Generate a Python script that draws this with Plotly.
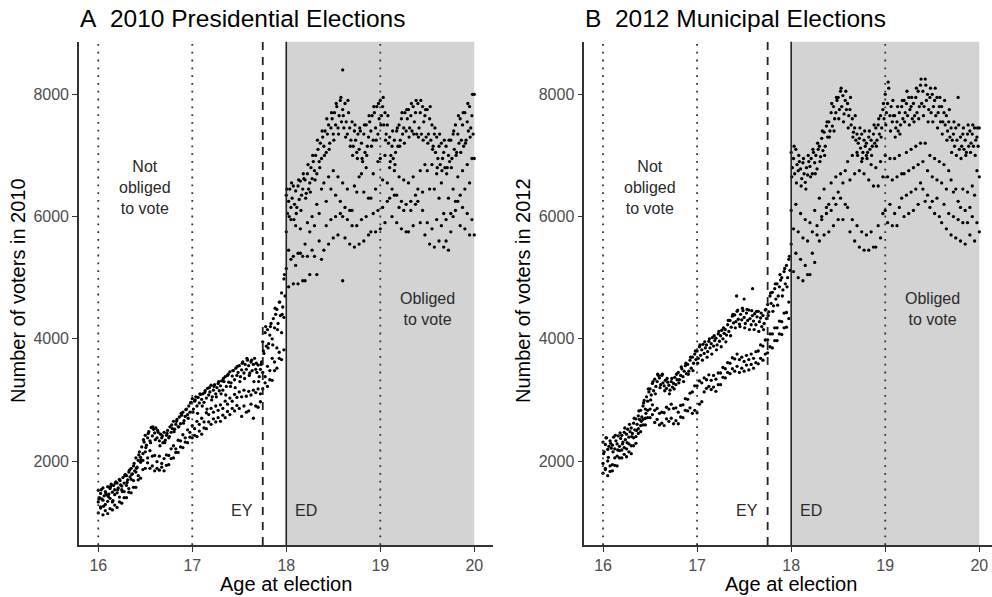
import numpy as np
import plotly.graph_objects as go

# ---------------- Panel A: 2010 Presidential Elections ----------------
# upper (weekday) band, one value every 0.0125 years from age 16.0 to 20.0
a_top = [
    1520, 1400, 1470, 1380, 1560, 1430, 1500, 1450,
    1580, 1460, 1550, 1620, 1490, 1600, 1530, 1660,
    1640, 1560, 1700, 1610, 1590, 1730, 1640, 1780,
    1760, 1690, 1820, 1740, 1880, 1790, 1920, 1840,
    2050, 1900, 2010, 2150, 2060, 2230, 2120, 2310,
    2420, 2260, 2380, 2480, 2330, 2550, 2410, 2520,
    2460, 2540, 2380, 2470, 2330, 2440, 2380, 2300,
    2470, 2340, 2420, 2500, 2380, 2560, 2470, 2530,
    2650, 2520, 2600, 2680, 2560, 2720, 2610, 2750,
    2800, 2660, 2730, 2850, 2760, 2900, 2800, 2960,
    3020, 2850, 2980, 3050, 2900, 3040, 2950, 3090,
    3010, 3100, 2960, 3150, 3030, 3190, 3080, 3130,
    3240, 3050, 3160, 3250, 3100, 3200, 3270, 3150,
    3230, 3310, 3160, 3300, 3380, 3220, 3400, 3290,
    3460, 3280, 3390, 3480, 3330, 3520, 3400, 3450,
    3560, 3380, 3490, 3620, 3440, 3580, 3500, 3650,
    3560, 3440, 3620, 3480, 3580, 3680, 3500, 3450,
    3570, 3380, 3500, 3620, 3950, 3760, 4100, 3880,
    4150, 3920, 4060, 4250, 4000, 4330, 4180, 4400,
    4480, 4250, 4600, 4380, 4750, 4520, 4980, 4700,
    6350, 6050, 6250, 6450, 6150, 6300, 6500, 6200,
    6420, 6150, 6500, 6280, 6580, 6350, 6450, 6620,
    6600, 6380, 6700, 6450, 6550, 6800, 6620, 6900,
    6750, 7000, 6700, 7100, 6900, 7200, 6950, 7300,
    7150, 7400, 7050, 7350, 7500, 7200, 7450, 7600,
    7350, 7700, 7500, 7800, 7450, 7650, 7900, 7550,
    7750, 7450, 7850, 7550, 7350, 7700, 7450, 7250,
    7550, 7150, 7400, 7250, 7050, 7350, 7100, 7400,
    7200, 6900, 7350, 7050, 7500, 7150, 7300, 7550,
    7400, 7650, 7250, 7700, 7450, 7800, 7350, 7600,
    7900, 7650, 7800, 7500, 7700, 7350, 7500, 7200,
    7300, 7000, 7150, 6950, 7250, 7050, 7400, 7150,
    7500, 7250, 7600, 7350, 7450, 7700, 7400, 7600,
    7750, 7450, 7650, 7400, 7800, 7550, 7700, 7350,
    7850, 7450, 7700, 7350, 7800, 7550, 7650, 7300,
    7750, 7350, 7600, 7250, 7500, 7150, 7350, 7050,
    7300, 6950, 7150, 6850, 7200, 6950, 7050, 6800,
    7150, 6800, 7000, 6900, 7250, 6950, 7350, 7100,
    7500, 7050, 7350, 7200, 7600, 7250, 7500, 7150,
    7700, 7250, 7550, 7400, 7800, 7450, 7650, 7350,
    8000,
]
# extra scatter of the upper band, every 0.025 years starting at 16.00625
a_extra = [
    1380, 1530, 1260, 1470, 1420, 1580, 1350, 1640,
    1530, 1680, 1500, 1760, 1650, 1850, 1780, 1960,
    1880, 2100, 2020, 2350, 2220, 2450, 2300, 2560,
    2350, 2500, 2250, 2410, 2300, 2450, 2400, 2590,
    2480, 2650, 2560, 2780, 2620, 2840, 2700, 2950,
    2800, 3000, 2780, 3100, 2900, 3120, 2850, 3200,
    3000, 3220, 3050, 3300, 3100, 3350, 3080, 3420,
    3220, 3480, 3200, 3550, 3300, 3600, 3350, 3680,
    3400, 3650, 3300, 3600, 3300, 3580, 3800, 4200,
    3850, 4200, 3900, 4500, 4150, 4600, 4400, 5050,
    6450, 6000, 6550, 5950, 6050, 6600, 6100, 6700,
    6300, 6850, 6400, 7000, 6600, 7250, 6800, 7400,
    7000, 7600, 7100, 7700, 7250, 7850, 7350, 7950,
    7650, 7300, 7900, 7150, 7000, 7500, 6950, 7450,
    6950, 7500, 7000, 7650, 7150, 7800, 7250, 7850,
    7500, 7950, 7250, 7650, 6900, 7400, 6850, 7450,
    7150, 7700, 7200, 7750, 7300, 7850, 7350, 7900,
    7300, 7900, 7250, 7750, 7200, 7800, 7100, 7450,
    6800, 7350, 6750, 7250, 6700, 7250, 6800, 7400,
    7000, 7650, 7050, 7700, 7200, 7850, 7300, 8000,
]
# middle band, one value every 0.025 years
a_mid = [
    1330, 1250, 1360, 1290, 1340, 1390, 1330, 1450,
    1480, 1410, 1530, 1500, 1600, 1550, 1700, 1680,
    1820, 1760, 1980, 2010, 2150, 2050, 2170, 2080,
    2090, 1990, 2080, 1960, 2040, 2100, 2090, 2200,
    2250, 2200, 2340, 2330, 2430, 2380, 2510, 2470,
    2580, 2530, 2650, 2600, 2700, 2640, 2790, 2760,
    2860, 2800, 2900, 2830, 2920, 2860, 2980, 2930,
    3030, 2980, 3090, 3040, 3130, 3050, 3160, 3060,
    3140, 3080, 3160, 3120, 3180, 3100, 3450, 3380,
    3550, 3480, 3680, 3620, 3850, 3780, 4100, 4350,
    5750, 5450, 5950, 5350, 5850, 5400, 5800, 5350,
    5550, 5900, 5750, 6000, 5850, 6200, 6050, 6450,
    6550, 6250, 6650, 6450, 6750, 6350, 6650, 6250,
    6550, 6150, 6450, 6100, 6100, 6500, 6400, 6650,
    6700, 6400, 6800, 6300, 6300, 6700, 6450, 6900,
    6950, 6600, 7000, 6550, 6800, 6450, 6750, 6350,
    6650, 6250, 6600, 6200, 6550, 6250, 6650, 6350,
    6450, 6750, 6400, 6850, 6750, 6450, 6850, 6450,
    6700, 6300, 6550, 6050, 5950, 6300, 6050, 6450,
    6250, 6650, 6350, 6750, 6450, 6850, 6550, 6950,
    6950,
]
# lowest band, one value every 0.025 years
a_low = [
    1150, 1230, 1120, 1190, 1140, 1220, 1200, 1280,
    1240, 1330, 1310, 1400, 1400, 1490, 1480, 1570,
    1570, 1690, 1720, 1860, 1880, 1970, 1880, 1920,
    1840, 1880, 1850, 1900, 1840, 1930, 1940, 2040,
    2050, 2140, 2140, 2230, 2220, 2310, 2300, 2390,
    2380, 2420, 2400, 2490, 2440, 2540, 2530, 2640,
    2600, 2690, 2640, 2710, 2650, 2750, 2710, 2810,
    2760, 2860, 2820, 2910, 2860, 2730, 2900, 2800,
    2820, 2930, 2700, 2900, 2880, 2970, 3180, 3280,
    3220, 3330, 3320, 3480, 3520, 3680, 3660, 3820,
    5150, 4850, 5300, 4900, 5200, 4900, 5400, 4950,
    4950, 5350, 5050, 5450, 5350, 5050, 5600, 5300,
    5450, 5850, 5550, 5950, 5650, 6000, 5700, 6050,
    6000, 5650, 5950, 5550, 5850, 5500, 5850, 5550,
    5950, 5600, 6000, 5700, 5750, 6050, 5750, 6100,
    5800, 6150, 5900, 6250, 6300, 6000, 6350, 5900,
    6150, 5800, 6100, 5750, 5750, 6100, 5850, 6200,
    6250, 5900, 6100, 5700, 5900, 5550, 5800, 5500,
    5950, 5600, 5850, 5500, 5600, 5450, 5750, 6000,
    6100, 6250, 5850, 6150, 5800, 6050, 5700, 5950,
    5700,
]
a_out_age = [18.6, 18.6]
a_out_val = [8400, 4950]

# ---------------- Panel B: 2012 Municipal Elections ----------------
b_top = [
    2310, 2150, 2270, 2380, 2190, 2240, 2330, 2210,
    2260, 2390, 2200, 2330, 2280, 2410, 2240, 2370,
    2420, 2310, 2470, 2350, 2440, 2520, 2390, 2480,
    2540, 2450, 2620, 2510, 2690, 2600, 2740, 2680,
    2830, 2720, 2900, 2990, 2850, 3050, 2980, 3130,
    3180, 3080, 3270, 3150, 3340, 3220, 3300, 3400,
    3360, 3250, 3400, 3280, 3230, 3320, 3190, 3290,
    3240, 3160, 3300, 3210, 3270, 3370, 3250, 3330,
    3450, 3330, 3400, 3510, 3380, 3470, 3560, 3430,
    3580, 3470, 3650, 3520, 3700, 3600, 3750, 3660,
    3800, 3680, 3870, 3730, 3820, 3910, 3760, 3850,
    3900, 3790, 3960, 3850, 3920, 4020, 3880, 3970,
    4010, 3900, 4080, 3960, 4050, 4140, 4000, 4090,
    4150, 4060, 4230, 4120, 4300, 4190, 4370, 4260,
    4390, 4280, 4450, 4320, 4240, 4400, 4310, 4460,
    4350, 4250, 4420, 4300, 4470, 4330, 4230, 4380,
    4290, 4410, 4230, 4360, 4450, 4280, 4340, 4200,
    4380, 4250, 4470, 4330, 4560, 4440, 4700, 4580,
    4760, 4540, 4820, 4650, 4900, 4700, 4850, 4960,
    5000, 4800, 5100, 4900, 5200, 5000, 5300, 5120,
    7050, 6800, 6950, 6700, 7100, 6850, 6750, 6900,
    6780, 6620, 6880, 6700, 6560, 6800, 6680, 6900,
    6820, 6950, 6700, 7050, 6880, 7000, 6780, 7100,
    7150, 6980, 7280, 7080, 7380, 7150, 7480, 7300,
    7550, 7400, 7700, 7480, 7800, 7600, 7700, 7900,
    7950, 7750, 8050, 7800, 7980, 7680, 7900, 7750,
    7850, 7650, 7750, 7500, 7600, 7380, 7450, 7250,
    7350, 7200, 7280, 7120, 7350, 7050, 7250, 7150,
    7200, 7050, 7300, 7100, 7250, 7150, 7350, 7200,
    7450, 7250, 7500, 7350, 7650, 7450, 7750, 7600,
    8000, 7700, 7850, 8100, 7650, 7800, 7550, 7650,
    7650, 7450, 7550, 7400, 7700, 7500, 7800, 7600,
    7900, 7700, 7850, 7650, 7950, 7750, 7800, 7600,
    7850, 7650, 7950, 7700, 8050, 7800, 8150, 7850,
    8050, 7800, 8250, 7900, 8000, 7750, 7950, 7700,
    8000, 7800, 7900, 7650, 7950, 7700, 7800, 7550,
    7800, 7550, 7700, 7500, 7650, 7400, 7550, 7300,
    7450, 7250, 7350, 7150, 7450, 7250, 7950, 7100,
    7300, 7150, 7350, 7100, 7250, 7050, 7350, 7150,
    7400, 7200, 7350, 7150, 7450, 7250, 7300, 7150,
    7450,
]
b_extra = [
    2120, 2380, 2060, 2290, 2150, 2420, 2180, 2460,
    2280, 2540, 2300, 2600, 2400, 2700, 2500, 2820,
    2650, 2950, 2780, 3180, 3000, 3300, 3100, 3420,
    3200, 3420, 3150, 3350, 3100, 3350, 3180, 3420,
    3280, 3540, 3300, 3600, 3420, 3700, 3480, 3800,
    3600, 3900, 3650, 3950, 3700, 4000, 3750, 4050,
    3820, 4120, 3870, 4180, 3950, 4300, 4050, 4400,
    4180, 4470, 4200, 4500, 4180, 4480, 4150, 4460,
    4150, 4450, 4120, 4420, 4150, 4480, 4380, 4750,
    4450, 4900, 4550, 5050, 4700, 5150, 4850, 5350,
    6650, 7150, 6550, 7000, 6500, 6950, 6450, 7000,
    6650, 7100, 6700, 7200, 6900, 7400, 7000, 7550,
    7300, 7850, 7400, 7950, 7600, 8100, 7550, 8050,
    7450, 7950, 7300, 7650, 7000, 7450, 6950, 7400,
    6950, 7400, 7000, 7500, 7150, 7600, 7300, 7850,
    7500, 8200, 7400, 7900, 7300, 7800, 7350, 7900,
    7550, 8050, 7500, 7950, 7550, 8100, 7600, 8250,
    7650, 8150, 7550, 8100, 7550, 8100, 7450, 7950,
    7350, 7900, 7250, 7750, 7050, 7550, 7000, 7500,
    6950, 7450, 7000, 7500, 7050, 7500, 7000, 7450,
]
b_mid = [
    1960, 1880, 2000, 1920, 1940, 2050, 2080, 2170,
    2180, 2220, 2200, 2280, 2250, 2380, 2400, 2530,
    2580, 2680, 2700, 2830, 2850, 2920, 2830, 2860,
    2780, 2800, 2790, 2880, 2850, 2930, 2860, 2870,
    2800, 2910, 2920, 3020, 3010, 3110, 3130, 3230,
    3230, 3310, 3280, 3360, 3330, 3410, 3320, 3400,
    3340, 3440, 3440, 3530, 3510, 3610, 3600, 3690,
    3670, 3750, 3660, 3700, 3630, 3730, 3660, 3750,
    3680, 3790, 3800, 3900, 3880, 3980, 3980, 4080,
    4080, 4180, 4180, 4290, 4280, 4420, 4430, 4600,
    6100, 5800, 6200, 5750, 6050, 5650, 5950, 5600,
    5900, 5750, 6100, 5850, 6300, 6000, 6450, 6150,
    6200, 6550, 6300, 6650, 6400, 6700, 6550, 6750,
    6900, 6600, 7000, 6700, 7050, 6750, 6900, 6700,
    7000, 6600, 6850, 6500, 6800, 6500, 6900, 6650,
    7000, 6650, 6950, 6600, 6950, 6650, 7000, 6700,
    6700, 7050, 6750, 7100, 6800, 7150, 6850, 7200,
    6900, 7200, 6750, 7000, 6650, 6950, 6600, 6900,
    6550, 6850, 6450, 6750, 6600, 6400, 6450, 6250,
    6150, 6450, 6100, 6400, 6150, 6500, 6350, 6750,
    6650,
]
b_low = [
    1800, 1860, 1760, 1830, 1840, 1930, 1920, 2050,
    2050, 2110, 2070, 2150, 2120, 2250, 2290, 2450,
    2480, 2590, 2590, 2710, 2710, 2760, 2630, 2680,
    2590, 2620, 2580, 2690, 2650, 2700, 2610, 2660,
    2610, 2720, 2710, 2830, 2820, 2870, 2780, 2830,
    2790, 2930, 2970, 3130, 3190, 3220, 3170, 3210,
    3140, 3250, 3250, 3370, 3360, 3450, 3430, 3510,
    3470, 3550, 3450, 3520, 3470, 3570, 3490, 3580,
    3520, 3610, 3590, 3680, 3650, 3750, 3770, 3870,
    3850, 3970, 3970, 4080, 4070, 4180, 4190, 4330,
    5550, 5100, 5400, 5000, 5300, 4950, 5200, 5050,
    5050, 5400, 5250, 5700, 5600, 5950, 5700, 6050,
    5750, 6100, 5850, 6200, 5950, 6300, 5950, 6200,
    6150, 5750, 5950, 5600, 5850, 5500, 5750, 5450,
    5700, 5450, 5750, 5500, 5500, 5850, 5650, 6050,
    6100, 5900, 6200, 5850, 6050, 5850, 6150, 6300,
    6000, 6350, 6050, 6400, 6100, 6450, 6200, 6550,
    6450, 6250, 6350, 6150, 6250, 6050, 6300, 6000,
    5900, 6200, 5800, 6050, 5700, 6000, 5650, 5950,
    5600, 5900, 5550, 5900, 5700, 6000, 5600, 5900,
    5750,
]
b_out_age = [17.42, 17.5, 17.59]
b_out_val = [4700, 4650, 4820]

# regular age grids for the bands
ages_w = np.round(16 + 0.0125 * np.arange(len(a_top)), 5)
ages_e = np.round(16 + 0.025 * np.arange(len(a_mid)), 5)
ages_x = np.round(16.00625 + 0.025 * np.arange(len(a_extra)), 5)

x_ticks = [16, 17, 18, 19, 20]
y_ticks = [2000, 4000, 6000, 8000]

FONT = "Liberation Sans, Arial, sans-serif"
W, H = 992, 597

fig = go.Figure()
mk = dict(color="black", size=3.3, line=dict(width=0))

for (xa, ya, top, extra, mid, low, oa, ov) in [
    ("x", "y", a_top, a_extra, a_mid, a_low, a_out_age, a_out_val),
    ("x2", "y2", b_top, b_extra, b_mid, b_low, b_out_age, b_out_val),
]:
    for xs, ys in [(ages_w, top), (ages_x, extra), (ages_e, mid), (ages_e, low), (oa, ov)]:
        fig.add_trace(go.Scatter(x=xs, y=ys, mode="markers", marker=mk, xaxis=xa, yaxis=ya,
                                 showlegend=False, hoverinfo="skip"))

shapes = []
annotations = []
for xr, yr in [("x", "y"), ("x2", "y2")]:
    shapes.append(dict(type="rect", xref=xr, yref=yr + " domain", x0=18, x1=20, y0=0, y1=1,
                       fillcolor="#d3d3d3", line=dict(width=0), layer="below"))
    for v in [16, 17, 19]:
        shapes.append(dict(type="line", xref=xr, yref=yr + " domain", x0=v, x1=v, y0=0, y1=1,
                           line=dict(color="#333333", width=1.8, dash="1.8px,6px"), layer="above"))
    shapes.append(dict(type="line", xref=xr, yref=yr + " domain", x0=17.75, x1=17.75, y0=0, y1=1,
                       line=dict(color="#222222", width=1.8, dash="8px,7px"), layer="above"))
    shapes.append(dict(type="line", xref=xr, yref=yr + " domain", x0=18, x1=18, y0=0, y1=1,
                       line=dict(color="#222222", width=1.6), layer="above"))
    tf = dict(family=FONT, size=16, color="#2a2a2a")
    annotations += [
        dict(x=16.5, y=6480, xref=xr, yref=yr, text="Not<br>obliged<br>to vote", showarrow=False,
             font=tf, align="center", xanchor="center", yanchor="middle"),
        dict(x=19.5, y=4480, xref=xr, yref=yr, text="Obliged<br>to vote", showarrow=False,
             font=tf, align="center", xanchor="center", yanchor="middle"),
        dict(x=17.665, y=1190, xref=xr, yref=yr, text="EY", showarrow=False,
             font=tf, xanchor="right", yanchor="middle"),
        dict(x=18.075, y=1190, xref=xr, yref=yr, text="ED", showarrow=False,
             font=tf, xanchor="left", yanchor="middle"),
    ]

# titles and axis titles
for left_px, title, ylab, cx in [
    (78, "A\u00a0\u00a02010 Presidential Elections", "Number of voters in 2010", 286),
    (583, "B\u00a0\u00a02012 Municipal Elections", "Number of voters in 2012", 791),
]:
    annotations.append(dict(x=left_px / W, y=1 - 19 / H, xref="paper", yref="paper", text=title,
                            showarrow=False, xanchor="left", yanchor="middle",
                            font=dict(family=FONT, size=24.5, color="black")))
    annotations.append(dict(x=(left_px - 60) / W, y=1 - 291 / H, xref="paper", yref="paper", text=ylab,
                            showarrow=False, textangle=-90, xanchor="center", yanchor="middle",
                            font=dict(family=FONT, size=20, color="black")))
    annotations.append(dict(x=cx / W, y=1 - 584 / H, xref="paper", yref="paper", text="Age at election",
                            showarrow=False, xanchor="center", yanchor="middle",
                            font=dict(family=FONT, size=20, color="black")))

ydom = [1 - 545 / H, 1 - 41.7 / H]
axis_common = dict(showgrid=False, zeroline=False, showline=True, linecolor="#333333", linewidth=1.6,
                   ticks="outside", ticklen=5, tickwidth=1.4, tickcolor="#333333",
                   tickfont=dict(family=FONT, size=16, color="#4d4d4d"))

fig.update_layout(
    width=W, height=H, margin=dict(l=0, r=0, t=0, b=0),
    paper_bgcolor="white", plot_bgcolor="white",
    shapes=shapes, annotations=annotations, hovermode=False,
    xaxis=dict(domain=[79 / W, 492.7 / W], range=[15.795, 20.196], tickvals=x_ticks, anchor="y", **axis_common),
    yaxis=dict(domain=ydom, range=[626, 8861], tickvals=y_ticks, anchor="x", **axis_common),
    xaxis2=dict(domain=[584.3 / W, 1.0], range=[15.801, 20.135], tickvals=x_ticks, anchor="y2", **axis_common),
    yaxis2=dict(domain=ydom, range=[626, 8861], tickvals=y_ticks, anchor="x2", **axis_common),
)

fig.write_html("out.html", config={"displayModeBar": False},
               post_script="document.body.style.margin='0';document.body.style.padding='0';document.body.style.overflow='hidden';")
